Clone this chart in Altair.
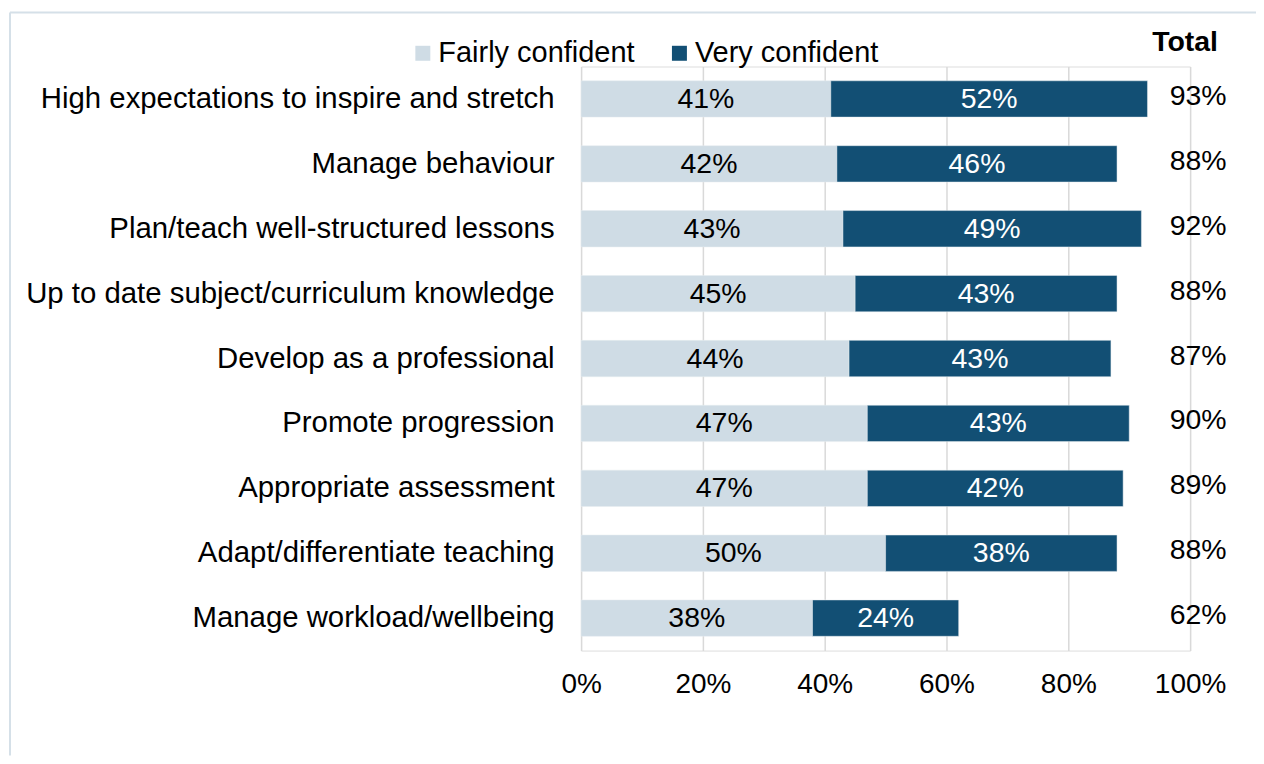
import altair as alt
import pandas as pd

categories = [
    "High expectations to inspire and stretch",
    "Manage behaviour",
    "Plan/teach well-structured lessons",
    "Up to date subject/curriculum knowledge",
    "Develop as a professional",
    "Promote progression",
    "Appropriate assessment",
    "Adapt/differentiate teaching",
    "Manage workload/wellbeing",
]
fairly = [41, 42, 43, 45, 44, 47, 47, 50, 38]
very = [52, 46, 49, 43, 43, 43, 42, 38, 24]
totals = [93, 88, 92, 88, 87, 90, 89, 88, 62]
series = ["Fairly confident", "Very confident"]
colors = ["#cfdce5", "#124f74"]
x_ticks = [0, 20, 40, 60, 80, 100]

rows = []
for c, f, v in zip(categories, fairly, very):
    rows.append({"category": c, "series": series[0], "value": f, "order": 0})
    rows.append({"category": c, "series": series[1], "value": v, "order": 1})
df = pd.DataFrame(rows)
tot_df = pd.DataFrame({"category": categories, "total": totals})

FONT = "Liberation Sans"

y_enc = alt.Y(
    "category:N",
    sort=categories,
    title=None,
    scale=alt.Scale(paddingInner=0.44, paddingOuter=0.22),
    axis=alt.Axis(
        labelFontSize=29.4, labelFont=FONT, labelColor="#000000", labelLimit=0,
        labelPadding=27, ticks=False, domain=False, grid=False,
    ),
)

base = alt.Chart(df).transform_stack(
    stack="value", groupby=["category"], as_=["v0", "v1"],
    sort=[alt.SortField("order", order="ascending")],
).transform_calculate(mid="(datum.v0 + datum.v1) / 2")

bars = base.mark_bar(stroke="#e6ecf0", strokeWidth=0.5).encode(
    x=alt.X(
        "v0:Q",
        title=None,
        scale=alt.Scale(domain=[0, 100], nice=False),
        axis=alt.Axis(
            values=x_ticks, labelExpr="datum.value + '%'", labelFontSize=28,
            labelFont=FONT, labelColor="#000000", labelPadding=20, ticks=False,
            labelFlush=False, labelOverlap=False, labelBound=False,
            domain=False, grid=True, gridColor="#d9d9d9", gridWidth=1.5,
        ),
    ),
    x2="v1:Q",
    y=y_enc,
    color=alt.Color(
        "series:N",
        scale=alt.Scale(domain=series, range=colors),
        legend=alt.Legend(
            title=None, orient="none", direction="horizontal",
            legendX=-173, legendY=-28, symbolType="square", symbolSize=225,
            symbolStrokeWidth=0, labelFontSize=29, labelFont=FONT,
            labelColor="#000000", labelOffset=1, columnPadding=30, padding=0,
            labelLimit=0,
        ),
    ),
)

labels = base.mark_text(fontSize=28.5, font=FONT).encode(
    x="mid:Q",
    y=alt.Y("category:N", sort=categories),
    text=alt.Text("label:N"),
    color=alt.condition(
        alt.datum.series == "Very confident", alt.value("#ffffff"), alt.value("#000000")
    ),
).transform_calculate(label="datum.value + '%'")

tot = alt.Chart(tot_df).mark_text(
    fontSize=28.5, font=FONT, color="#000000", dy=-3
).transform_calculate(label="datum.total + '%'").encode(
    x=alt.value(618),
    y=alt.Y("category:N", sort=categories),
    text="label:N",
)

total_title = alt.Chart(pd.DataFrame({"t": ["Total"]})).mark_text(
    fontSize=28.5, font=FONT, fontWeight="bold", color="#000000"
).encode(x=alt.value(605), y=alt.value(-25), text="t:N")

frame_df = pd.DataFrame({"k": [0]})
frame_top = alt.Chart(frame_df).mark_rule(color="#d5e0e8", strokeWidth=2).encode(
    x=alt.value(-572), x2=alt.value(676), y=alt.value(-54)
)
frame_left = alt.Chart(frame_df).mark_rule(color="#d5e0e8", strokeWidth=2).encode(
    x=alt.value(-572), y=alt.value(-54), y2=alt.value(690)
)

chart = alt.layer(
    frame_top, frame_left, bars, labels, tot, total_title
).properties(
    width=610,
    height=585,
    autosize=alt.AutoSizeParams(type="none"),
    padding={"left": 574, "top": 58, "right": 66, "bottom": 105},
).configure_view(stroke=None).configure(background="#ffffff")

chart.save("out.html", embed_options={"renderer": "svg", "actions": False})
